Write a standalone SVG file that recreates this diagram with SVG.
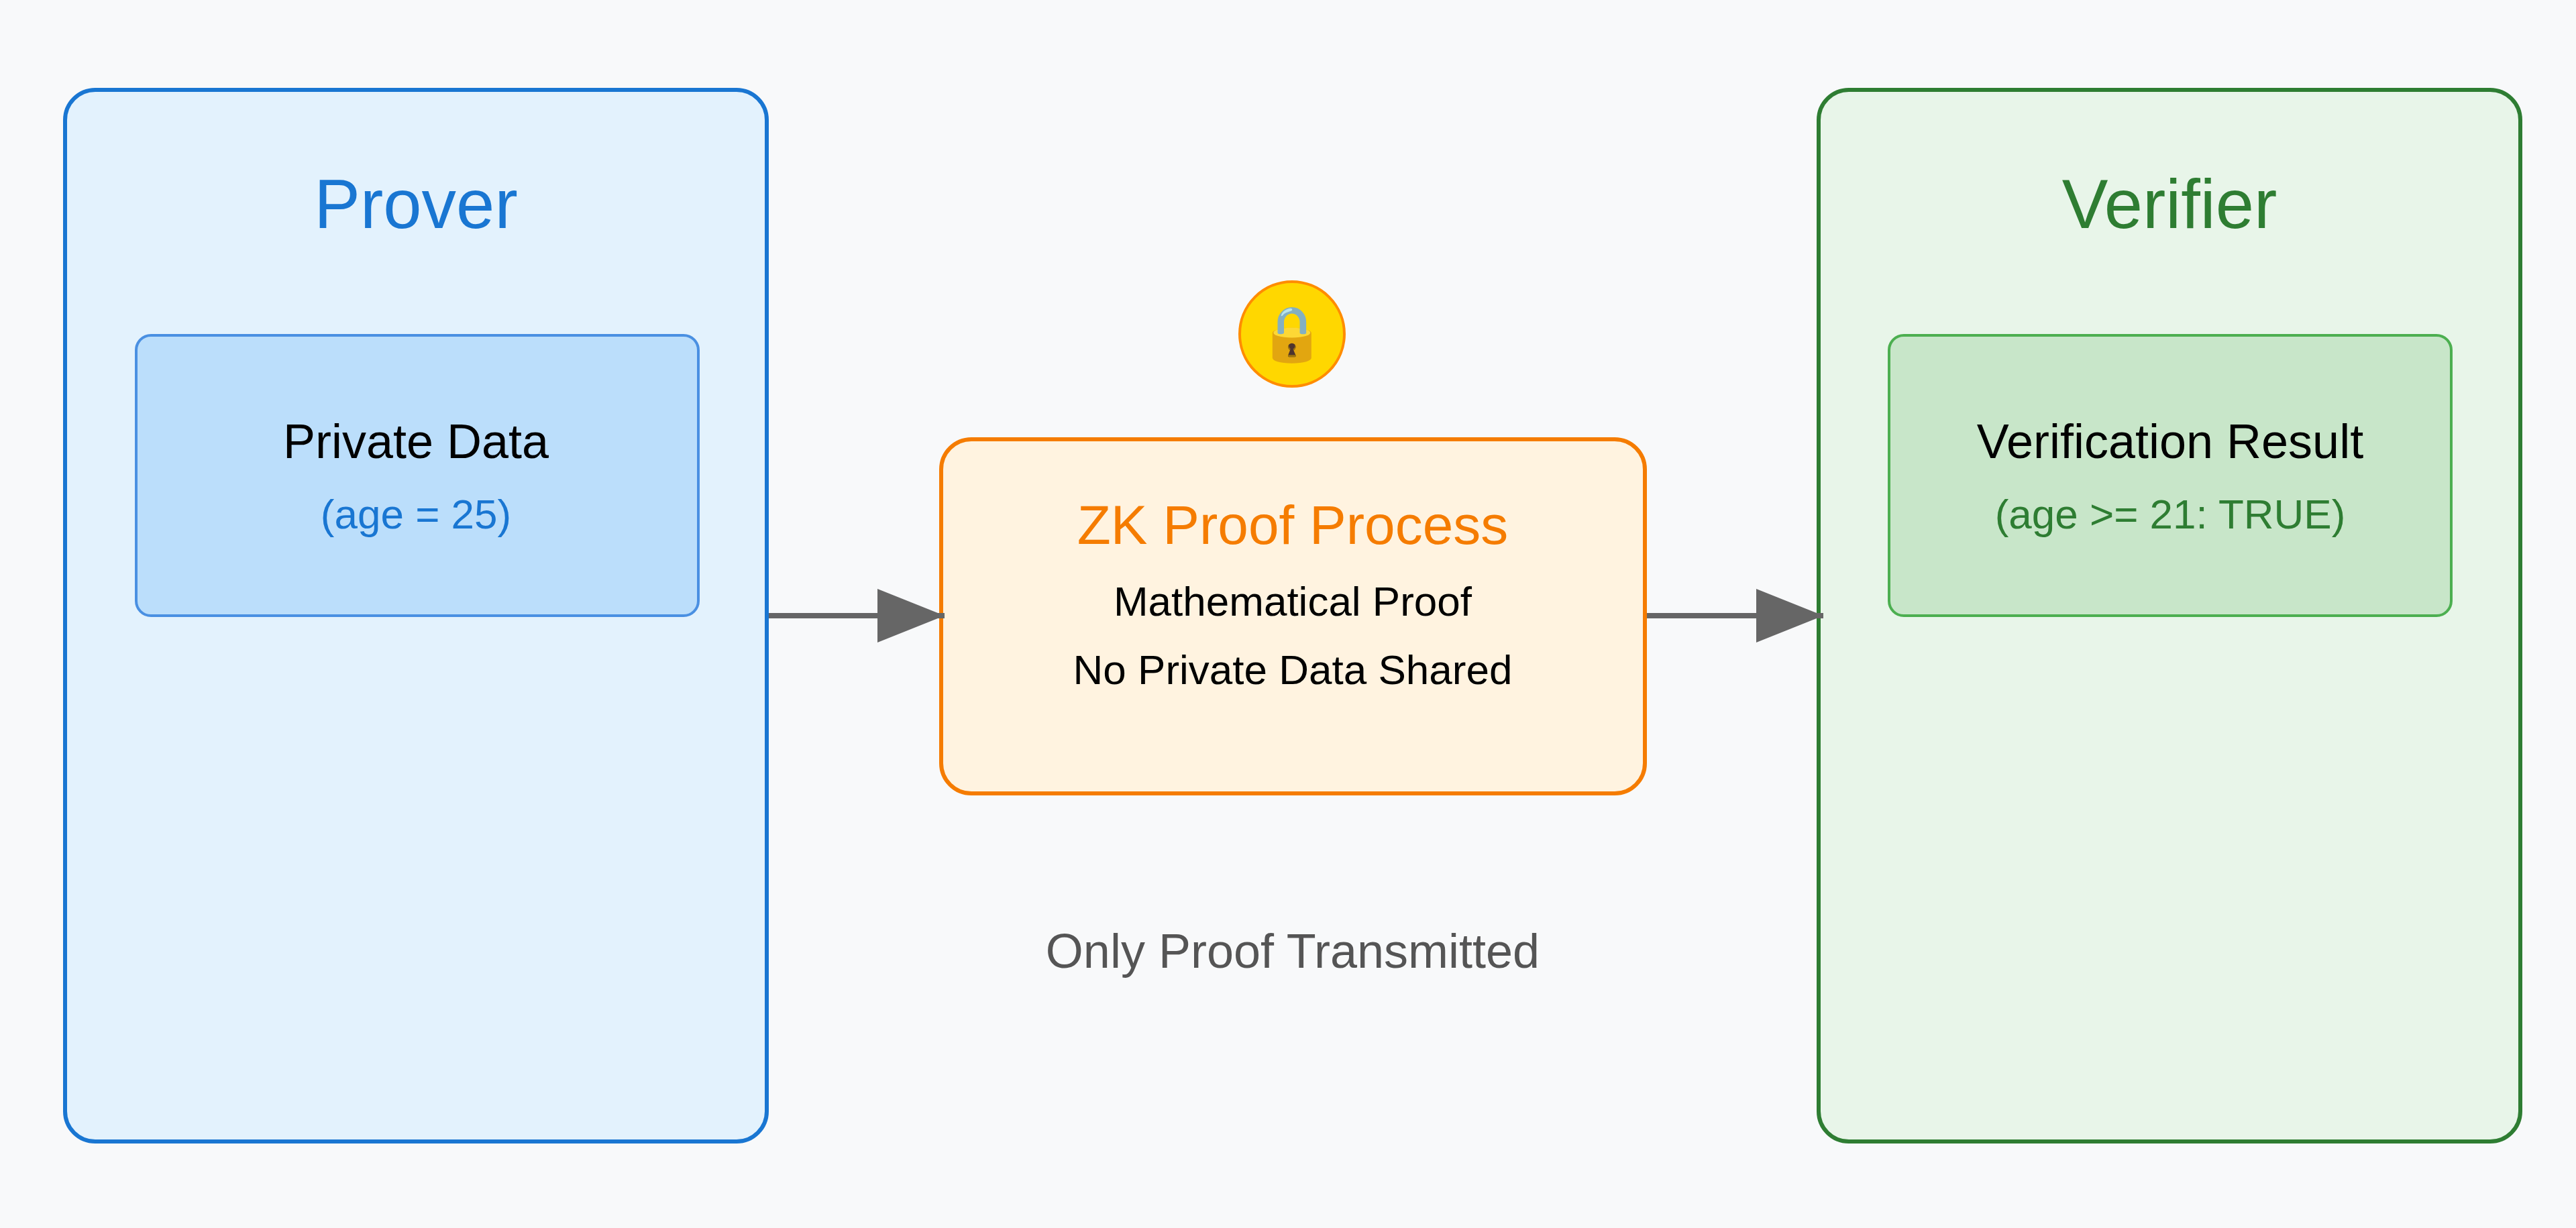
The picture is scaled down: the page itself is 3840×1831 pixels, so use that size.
<svg xmlns="http://www.w3.org/2000/svg" width="3840" height="1831" viewBox="0 0 3840 1831">
<defs>
<marker id="a" viewBox="0 0 10 10" refX="10" refY="5" markerWidth="100" markerHeight="80" markerUnits="userSpaceOnUse" orient="auto" preserveAspectRatio="none"><path d="M0,0 L10,5 L0,10 Z" fill="#666"/></marker>
</defs>
<style>
text{font-family:"Liberation Sans",Arial,sans-serif;text-anchor:middle}
.big{font-size:103px}
.mid{font-size:72px;fill:#000}
.sm{font-size:62px}
</style>
<rect width="3840" height="1831" fill="#f8f9fa"/>
<g id="prover">
<rect x="97" y="134" width="1046" height="1568" rx="45" fill="#e3f2fd" stroke="#1976d2" stroke-width="6"/>
<text x="620" y="340" class="big" fill="#1976d2">Prover</text>
</g>
<g id="private-data">
<rect x="203" y="500" width="838" height="418" rx="22" fill="#bbdefb" stroke="#4a90e2" stroke-width="4"/>
<text x="620" y="683" class="mid">Private Data</text>
<text x="620" y="788" class="sm" fill="#1976d2">(age = 25)</text>
</g>
<g id="zk-proof">
<rect x="1403" y="655" width="1049" height="528" rx="45" fill="#fff3e0" stroke="#f57c00" stroke-width="6"/>
<text x="1927" y="811" font-size="82" fill="#f57c00">ZK Proof Process</text>
<text x="1927" y="918" class="sm" fill="#000">Mathematical Proof</text>
<text x="1927" y="1020" class="sm" fill="#000">No Private Data Shared</text>
</g>
<g id="lock">
<circle cx="1926" cy="498" r="78" fill="#ffd700" stroke="#ff8c00" stroke-width="4"/>
<text x="1926" y="525" font-size="80" font-family="Noto Color Emoji,sans-serif">🔒</text>
</g>
<g id="verifier">
<rect x="2711" y="134" width="1046" height="1568" rx="45" fill="#e8f5e9" stroke="#2e7d32" stroke-width="6"/>
<text x="3234" y="340" class="big" fill="#2e7d32">Verifier</text>
</g>
<g id="verification-result">
<rect x="2816" y="500" width="838" height="418" rx="22" fill="#c8e6c9" stroke="#4caf50" stroke-width="4"/>
<text x="3235" y="683" class="mid">Verification Result</text>
<text x="3235" y="788" class="sm" fill="#2e7d32">(age &gt;= 21: TRUE)</text>
</g>
<g id="connectors">
<line x1="1146" y1="918" x2="1408" y2="918" stroke="#666" stroke-width="8" marker-end="url(#a)"/>
<line x1="2455" y1="918" x2="2718" y2="918" stroke="#666" stroke-width="8" marker-end="url(#a)"/>
</g>
<text x="1927" y="1443" font-size="72" fill="#555">Only Proof Transmitted</text>
</svg>
